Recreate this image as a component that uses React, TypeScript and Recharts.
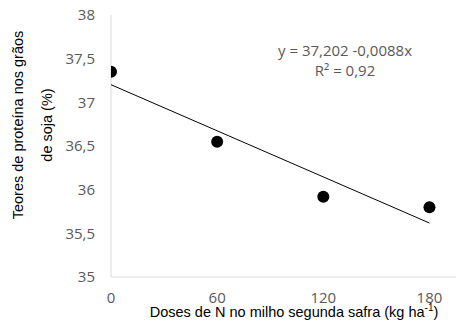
import React from 'react';
import { ComposedChart, Scatter, XAxis, YAxis, Label } from 'recharts';

const doses = [0, 60, 120, 180];
const proteina = [37.35, 36.55, 35.92, 35.8];
const xTicks = [0, 60, 120, 180];
const yTicks = [35, 35.5, 36, 36.5, 37, 37.5, 38];
// linha de tendência: y = 37,202 - 0,0088x nos extremos 0 e 180
const trendX = [0, 180];
const trendY = [37.202, 35.618];

const points = doses.map((d, i) => ({ x: d, y: proteina[i] }));
const trend = trendX.map((d, i) => ({ x: d, y: trendY[i] }));

const gray = '#595959';
const tickFont = { fill: gray, fontSize: 15, fontFamily: 'Open Sans' };

const Dot = (props: any) => <circle cx={props.cx} cy={props.cy} r={6} fill="#000" />;

const YTitle = () => (
    <text
        transform="translate(32,125) rotate(-90)"
        textAnchor="middle"
        fontFamily="Liberation Sans"
        fontSize={14.5}
        fill="#000"
    >
        <tspan x={0} dy={-9}>Teores de proteína nos grãos</tspan>
        <tspan x={0} dy={29}>de soja (%)</tspan>
    </text>
);

const XTitle = () => (
    <text x={294} y={317} textAnchor="middle" fontFamily="Liberation Sans" fontSize={14.5} fill="#000">
        Doses de N no milho segunda safra (kg ha<tspan dy={-6} fontSize={10}>-1</tspan>
        <tspan dy={6}>)</tspan>
    </text>
);

export default function App() {
    return (
        <div style={{ position: 'absolute', left: 0, top: 0, width: 458, height: 321, background: '#fff' }}>
            <ComposedChart width={458} height={321} margin={{ top: 15, right: 2, left: 0, bottom: 0 }}>
                <XAxis
                    type="number"
                    dataKey="x"
                    domain={[0, 195]}
                    ticks={xTicks}
                    allowDataOverflow
                    height={44}
                    axisLine={{ stroke: '#d9d9d9' }}
                    tickLine={false}
                    tickSize={0}
                    tickMargin={15}
                    tick={tickFont}
                >
                    <Label content={<XTitle />} />
                </XAxis>
                <YAxis
                    type="number"
                    dataKey="y"
                    domain={[35, 38]}
                    ticks={yTicks}
                    width={111}
                    axisLine={{ stroke: '#d9d9d9' }}
                    tickLine={false}
                    tickSize={0}
                    tickMargin={16}
                    tick={tickFont}
                    tickFormatter={(v: number) => String(v).replace('.', ',')}
                >
                    <Label content={<YTitle />} />
                </YAxis>
                <Scatter
                    data={trend}
                    line={{ stroke: '#000', strokeWidth: 1 }}
                    shape={() => null}
                    isAnimationActive={false}
                />
                <Scatter data={points} shape={<Dot />} isAnimationActive={false} />
            </ComposedChart>
            <div
                style={{
                    position: 'absolute',
                    left: 245,
                    top: 40,
                    width: 200,
                    textAlign: 'center',
                    fontFamily: 'Open Sans',
                    fontSize: 15,
                    lineHeight: '20px',
                    color: gray,
                }}
            >
                <div>y = 37,202 -0,0088x</div>
                <div>R² = 0,92</div>
            </div>
        </div>
    );
}
